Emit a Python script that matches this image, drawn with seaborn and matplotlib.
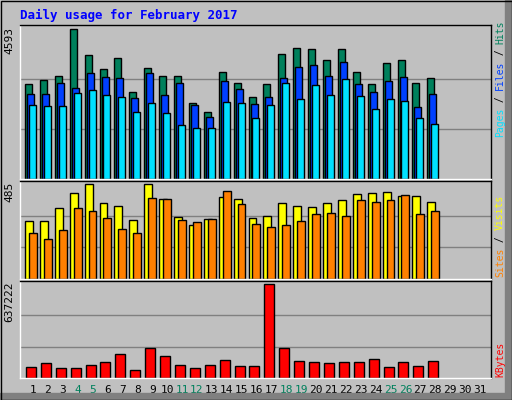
import matplotlib
matplotlib.use('Agg')
import matplotlib.pyplot as plt
import matplotlib.patches as mpatches
import numpy as np
import pandas as pd
import seaborn as sns

days = list(range(1, 29))
hits = [2927, 3052, 3177, 4593, 3802, 3364, 3708, 2677, 3395, 3177, 3177, 2333, 2052, 3302,
        2958, 2520, 2927, 3833, 4020, 3989, 3645, 3989, 3302, 2927, 3552, 3645, 2958, 3114]
files = [2614, 2614, 2958, 2802, 3270, 3145, 3114, 2479, 3270, 2583, 2958, 2270, 1896, 3020,
         2770, 2302, 2520, 3114, 3427, 3489, 3177, 3583, 2927, 2677, 3020, 3145, 2208, 2614]
pages = [2270, 2239, 2239, 2646, 2739, 2583, 2520, 2052, 2333, 2020, 1646, 1552, 1552, 2364,
         2333, 1864, 2270, 2958, 2458, 2895, 2583, 3083, 2552, 2145, 2458, 2395, 1864, 1677]
visits = [295, 295, 364, 438, 485, 385, 374, 300, 485, 406, 316, 274, 306, 416,
          406, 311, 322, 385, 374, 369, 385, 401, 432, 438, 443, 422, 422, 395]
sites = [232, 206, 248, 364, 348, 311, 253, 237, 411, 406, 300, 290, 306, 448,
         380, 279, 264, 274, 295, 332, 337, 322, 401, 395, 401, 427, 332, 348]
kbytes = [72100, 100000, 65100, 65100, 86000, 107000, 162800, 51200, 204700, 148800, 86000,
          65100, 86000, 120900, 79100, 79100, 637222, 204700, 114000, 107000, 100000, 107000,
          107000, 127900, 72100, 107000, 79100, 114000]
weekend = [4, 5, 11, 12, 18, 19, 25, 26]

df = pd.DataFrame(dict(day=days, hits=hits, files=files, pages=pages,
                       visits=visits, sites=sites, kbytes=kbytes))

sns.set_style('white')
plt.rcParams['font.family'] = ['DejaVu Sans Mono']

W, H = 512, 400
fig = plt.figure(figsize=(W / 100, H / 100), dpi=100, facecolor='#C0C0C0')

# bevel and border
fig.patches.append(mpatches.Rectangle((505 / W, 0), 7 / W, 1, transform=fig.transFigure,
                                      color='#808080', zorder=0))
fig.patches.append(mpatches.Rectangle((0, 0), 1, 7 / H, transform=fig.transFigure,
                                      color='#808080', zorder=0))
fig.patches.append(mpatches.Rectangle((0.5 / W, 0.5 / H), 1 - 1 / W, 1 - 1 / H,
                                      transform=fig.transFigure, fill=False,
                                      ec='black', lw=1, zorder=5))

def mkax(top, bottom):
    return fig.add_axes([20 / W, 1 - bottom / H, 471 / W, (bottom - top) / H])

XL = (0.13, 31.74)
ax1 = mkax(25, 179)
ax2 = mkax(181, 279)
ax3 = mkax(281, 378)

def style(ax, ymax, label):
    ax.set_facecolor('#C0C0C0')
    ax.set_xlim(*XL)
    ax.set_ylim(0, ymax * 1.03)
    for v in (ymax / 3, 2 * ymax / 3):
        ax.axhline(v, color='#808080', lw=1, zorder=0)
    ax.set_xticks([])
    ax.set_yticks([])
    for s in ax.spines.values():
        s.set_color('black')
        s.set_linewidth(1)
    ax.spines['left'].set_color('white')
    ax.spines['bottom'].set_color('white')
    ax.text(-0.012, 0.99, label, transform=ax.transAxes, rotation=90,
            ha='right', va='top', fontsize=8, color='black')

kw = dict(align='edge', edgecolor='black', linewidth=1)
ax1.bar(df.day - 0.53, df.hits, width=0.47, color='#00805C', **kw)
ax1.bar(df.day - 0.4, df.files, width=0.47, color='#0040FF', **kw)
ax1.bar(df.day - 0.27, df.pages, width=0.47, color='#00E0FF', **kw)
style(ax1, max(hits), str(max(hits)))

ax2.bar(df.day - 0.53, df.visits, width=0.53, color='#FFFF00', **kw)
ax2.bar(df.day - 0.27, df.sites, width=0.53, color='#FF8000', **kw)
style(ax2, max(visits), str(max(visits)))

ax3.bar(df.day - 0.47, df.kbytes, width=0.67, color='#FF0000', **kw)
style(ax3, max(kbytes), str(max(kbytes)))

# day labels
for d in range(1, 32):
    ax3.text(d, -0.12, str(d), transform=ax3.get_xaxis_transform(), ha='center', va='center',
             fontsize=8, color='#00805C' if d in weekend else 'black')

fig.text(20 / W, 1 - 15 / H, 'Daily usage for February 2017', color='#0000FF',
         fontsize=9, fontweight='bold', ha='left', va='center')

# right-hand rotated legends, one coloured piece at a time
def side(parts, ybottom, fs=7):
    step = 0.6 * fs * 100 / 72
    y = ybottom
    for txt, col in parts:
        fig.text(500 / W, 1 - y / H, txt, color=col, rotation=90, fontsize=fs,
                 ha='center', va='bottom')
        y -= len(txt) * step

side([('Pages', '#00E0FF'), (' / ', 'black'), ('Files', '#0040FF'), (' / ', 'black'),
      ('Hits', '#00805C')], 137)
side([('Sites', '#FF8000'), (' / ', 'black'), ('Visits', '#FFFF00')], 277)
side([('KBytes', '#FF0000')], 377)

fig.savefig('out.png', dpi=100, facecolor=fig.get_facecolor())
